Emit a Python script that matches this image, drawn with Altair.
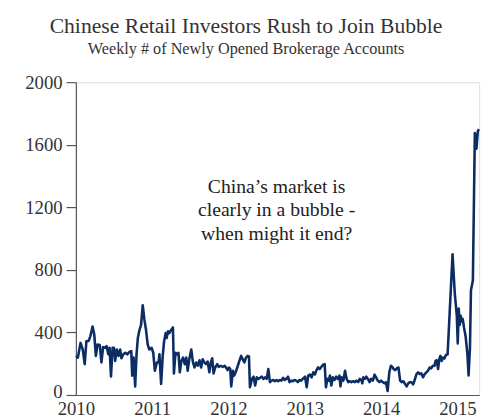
import altair as alt
import pandas as pd

years = [
    2010.004, 2010.026, 2010.061, 2010.090, 2010.116, 2010.138, 2010.168, 2010.189, 2010.219, 2010.241,
    2010.262, 2010.284, 2010.313, 2010.335, 2010.357, 2010.383, 2010.403, 2010.425, 2010.442, 2010.460,
    2010.481, 2010.499, 2010.515, 2010.537, 2010.558, 2010.580, 2010.597, 2010.622, 2010.648, 2010.674,
    2010.700, 2010.726, 2010.738, 2010.756, 2010.777, 2010.795, 2010.812, 2010.834, 2010.854, 2010.876,
    2010.898, 2010.919, 2010.941, 2010.963, 2010.992, 2011.014, 2011.035, 2011.061,
    2011.083, 2011.095, 2011.117, 2011.138, 2011.156, 2011.177, 2011.189, 2011.208, 2011.224, 2011.250,
    2011.272, 2011.285, 2011.305, 2011.327, 2011.344, 2011.362, 2011.383, 2011.405, 2011.427, 2011.447,
    2011.465, 2011.486, 2011.512, 2011.534, 2011.555, 2011.576, 2011.598, 2011.620, 2011.641, 2011.662,
    2011.684, 2011.705, 2011.727, 2011.749, 2011.769, 2011.787, 2011.804, 2011.826, 2011.852, 2011.872,
    2011.898, 2011.924, 2011.950, 2011.972, 2011.988, 2012.006, 2012.023,
    2012.036, 2012.058, 2012.075, 2012.101, 2012.122, 2012.143, 2012.165, 2012.187, 2012.208, 2012.229,
    2012.251, 2012.268, 2012.281, 2012.307, 2012.329, 2012.349, 2012.371, 2012.393, 2012.414, 2012.436,
    2012.458, 2012.478, 2012.500, 2012.522, 2012.543, 2012.565, 2012.586, 2012.607, 2012.629, 2012.651,
    2012.671, 2012.693, 2012.715, 2012.736, 2012.758, 2012.780, 2012.800, 2012.822, 2012.844, 2012.865,
    2012.887, 2012.909, 2012.929, 2012.951, 2012.973,
    2013.003, 2013.025, 2013.045, 2013.067, 2013.089, 2013.110, 2013.132, 2013.153, 2013.174, 2013.196,
    2013.218, 2013.239, 2013.260, 2013.277, 2013.295, 2013.312, 2013.329, 2013.347, 2013.367, 2013.389,
    2013.411, 2013.432, 2013.454, 2013.467, 2013.483, 2013.505, 2013.527, 2013.548, 2013.570, 2013.592,
    2013.612, 2013.634, 2013.656, 2013.677, 2013.699, 2013.720, 2013.741, 2013.754, 2013.767, 2013.789,
    2013.806, 2013.827, 2013.849, 2013.870, 2013.892, 2013.914, 2013.934, 2013.956, 2013.978, 2013.999,
    2014.021, 2014.043, 2014.063, 2014.085, 2014.107, 2014.128, 2014.153,
    2014.162, 2014.184, 2014.205, 2014.227, 2014.249, 2014.269, 2014.291, 2014.313, 2014.334, 2014.356,
    2014.378, 2014.398, 2014.420, 2014.442, 2014.463, 2014.485, 2014.507, 2014.527, 2014.549, 2014.571,
    2014.592, 2014.614, 2014.635, 2014.656, 2014.678, 2014.700, 2014.713, 2014.730, 2014.746, 2014.764,
    2014.777, 2014.794, 2014.811, 2014.829, 2014.849, 2014.871,
    2014.936, 2014.965, 2014.991, 2015.004, 2015.017, 2015.030, 2015.043, 2015.056, 2015.069, 2015.087,
    2015.107, 2015.129, 2015.146, 2015.164, 2015.177, 2015.202, 2015.228, 2015.249, 2015.267, 2015.280,
]

accounts = [
    250, 239, 333, 291, 197, 344, 346, 375, 438, 386,
    250, 323, 319, 208, 306, 302, 312, 260, 302, 118,
    302, 302, 218, 291, 250, 291, 235, 260, 270, 260,
    275, 281, 124, 239, 55, 260, 365, 417, 448, 574,
    480, 417, 323, 291, 302, 270, 155, 208,
    208, 260, 71, 250, 344, 396, 365, 407, 396, 417,
    432, 138, 270, 260, 270, 145, 218, 239, 197, 239,
    155, 228, 291, 208, 176, 208, 187, 222, 176, 228,
    208, 197, 214, 145, 208, 235, 138, 176, 197, 180,
    187, 180, 187, 172, 159, 176, 166,
    55, 155, 124, 155, 187, 218, 250, 228, 208, 239,
    250, 246, 50, 103, 117, 61, 113, 103, 110, 117,
    103, 113, 103, 166, 82, 92, 96, 88, 96, 88,
    96, 92, 110, 96, 103, 117, 82, 92, 88, 96,
    92, 82, 96, 92, 103,
    117, 50, 124, 131, 113, 145, 131, 159, 176, 166,
    180, 193, 197, 50, 103, 92, 124, 61, 113, 96,
    117, 103, 124, 55, 113, 92, 155, 103, 82, 88,
    82, 88, 82, 92, 82, 103, 96, 75, 113, 103,
    117, 103, 82, 103, 92, 130, 113, 92, 82, 92,
    82, 75, 82, 25, 145, 187, 176,
    166, 159, 170, 176, 92, 82, 88, 71, 55, 75,
    82, 82, 68, 99, 134, 145, 134, 138, 113, 134,
    145, 155, 176, 170, 187, 187, 218, 222, 166, 233,
    250, 218, 239, 233, 256, 260,
    899, 650, 511, 330, 553, 448, 507, 470, 486, 428,
    375, 270, 125, 302, 669, 732, 1675, 1575, 1686, 1700,
]

x_ticks = [2010, 2011, 2012, 2013, 2014, 2015]
y_ticks = [0, 400, 800, 1200, 1600, 2000]

title_text = "Chinese Retail Investors Rush to Join Bubble"
subtitle_text = "Weekly # of Newly Opened Brokerage Accounts"
note_lines = ["China\u2019s market is", "clearly in a bubble -", "when might it end?"]
note_pos = {"x": [2012.63], "y": [1330]}

df = pd.DataFrame({"year": years, "accounts": accounts})
note_df = pd.DataFrame({"x": note_pos["x"], "y": note_pos["y"], "t": ["\n".join(note_lines)]})

FONT = "Liberation Serif"
INK = "#333333"

x_scale = alt.Scale(domain=[2010, 2015.285], nice=False, zero=False)
y_scale = alt.Scale(domain=[0, 2000], nice=False)

line = alt.Chart(df).mark_line(color="#0b2d63", strokeWidth=2.6, strokeJoin="round").encode(
    x=alt.X("year:Q", scale=x_scale,
            axis=alt.Axis(values=x_ticks, format="d", title=None, ticks=False, grid=False,
                          labelFont=FONT, labelFontSize=19, labelColor=INK, labelPadding=5,
                          domainColor="#555555", domainWidth=1.2, labelFlush=False)),
    y=alt.Y("accounts:Q", scale=y_scale,
            axis=alt.Axis(values=y_ticks, format="d", title=None, grid=False, tickSize=10,
                          tickColor="#555555", tickWidth=1.2, domainColor="#555555", domainWidth=1.2,
                          labelFont=FONT, labelFontSize=19, labelColor=INK, labelPadding=4,
                          labelOffset={"condition": {"test": "datum.value == 0", "value": -3},
                                       "value": 0})),
)

note = alt.Chart(note_df).mark_text(
    font=FONT, fontSize=20, color="#222222", align="center", baseline="middle",
    lineBreak="\n", lineHeight=24,
).encode(x=alt.X("x:Q", scale=x_scale), y=alt.Y("y:Q", scale=y_scale), text="t:N")

chart = (line + note).properties(
    width=410,
    height=318,
    title=alt.TitleParams(
        text=title_text, subtitle=subtitle_text, anchor="middle", dx=-32,
        font=FONT, fontSize=22, fontWeight="normal", color=INK,
        subtitleFont=FONT, subtitleFontSize=16.5, subtitleColor=INK, subtitlePadding=3,
        offset=15,
    ),
    autosize=alt.AutoSizeParams(type="none"),
    padding={"left": 69, "top": 72, "right": 12, "bottom": 21},
).configure_view(stroke=None).configure(background="white")

chart.save("out.html", embed_options={"renderer": "svg", "actions": False})
